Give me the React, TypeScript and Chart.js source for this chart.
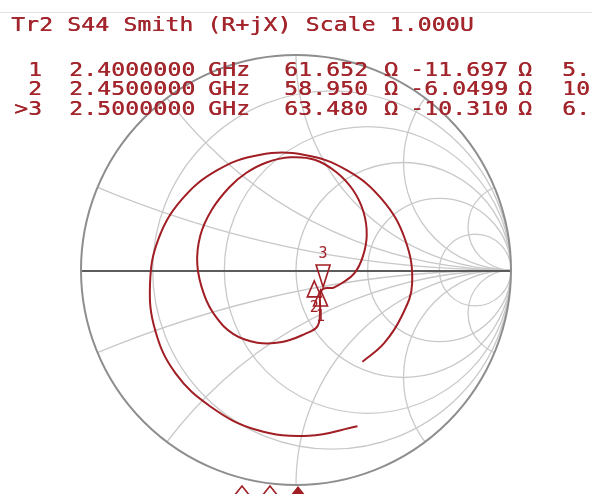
import React, { useEffect, useRef } from 'react';
import { Chart, registerables } from 'chart.js';

Chart.register(...registerables);

// ---------- data ----------
const TITLE = 'Tr2 S44 Smith (R+jX) Scale 1.000U';
const Z0 = 50;

const MARKER_IDS = ['1', '2', '>3'];
const MARKER_FREQ_GHZ = [2.4, 2.45, 2.5];
const MARKER_R = [61.652, 58.95, 63.48];
const MARKER_X = [-11.697, -6.0499, -10.31];
const MARKER_EXTRA = ['5.', '10', '6.'];
const ACTIVE_MARKER = 2;

// Smith grid (normalised resistance / reactance)
const R_GRID = [0.2, 0.5, 1, 2, 5];
const X_GRID = [0.2, 0.5, 1, 2, 5];

const OUTER_RE = [0.286, 0.06, -0.185, -0.395, -0.56, -0.655, -0.679, -0.64, -0.532, -0.37, -0.171, 0.041, 0.24, 0.401, 0.507, 0.54, 0.492, 0.41, 0.309];
const OUTER_IM = [-0.727, -0.771, -0.743, -0.637, -0.481, -0.28, -0.065, 0.144, 0.327, 0.462, 0.535, 0.535, 0.462, 0.327, 0.143, -0.065, -0.214, -0.34, -0.427];

const INNER_RE = [0.172, 0.218, 0.271, 0.31, 0.329, 0.314, 0.266, 0.188, 0.087, -0.027, -0.137, -0.232, -0.31, -0.391, -0.445, -0.459, -0.427, -0.374, -0.291, -0.18, -0.065, 0.04, 0.1, 0.112, 0.112, 0.126, 0.172];
const INNER_IM = [-0.084, -0.058, -0.016, 0.06, 0.162, 0.27, 0.371, 0.455, 0.513, 0.524, 0.5, 0.451, 0.385, 0.281, 0.16, 0.024, -0.116, -0.216, -0.298, -0.338, -0.335, -0.298, -0.261, -0.186, -0.121, -0.088, -0.084];

// ---------- styles ----------
const TRACE_COLOR = '#a01e24';
const TEXT_COLOR = '#a3262d';
const GRID_COLOR = '#c9c9c9';
const OUTER_COLOR = '#8e8e8e';
const AXIS_COLOR = '#5c5c5c';
const FONT = '20px "DejaVu Sans Mono"';
const TEXT_STRETCH = 1.15;

function toGamma(r: number, x: number) {
  const zr = r / Z0;
  const zi = x / Z0;
  const dr = zr + 1;
  const di = zi;
  const nr = zr - 1;
  const ni = zi;
  const d = dr * dr + di * di;
  return { x: (nr * dr + ni * di) / d, y: (ni * dr - nr * di) / d };
}

const smithGrid = {
  id: 'smithGrid',
  beforeDatasetsDraw(chart: any) {
    const { ctx, scales } = chart;
    const sx = scales.x;
    const sy = scales.y;
    const cx = sx.getPixelForValue(0);
    const cy = sy.getPixelForValue(0);
    const R = sx.getPixelForValue(1) - cx;
    ctx.save();
    ctx.beginPath();
    ctx.arc(cx, cy, R, 0, Math.PI * 2);
    ctx.clip();
    ctx.strokeStyle = GRID_COLOR;
    ctx.lineWidth = 1.3;
    R_GRID.forEach((r) => {
      const c = r / (1 + r);
      const rad = 1 / (1 + r);
      ctx.beginPath();
      ctx.arc(sx.getPixelForValue(c), cy, rad * R, 0, Math.PI * 2);
      ctx.stroke();
    });
    X_GRID.forEach((xv) => {
      [1, -1].forEach((s) => {
        ctx.beginPath();
        ctx.arc(sx.getPixelForValue(1), sy.getPixelForValue(s / xv), R / xv, 0, Math.PI * 2);
        ctx.stroke();
      });
    });
    ctx.restore();
    ctx.save();
    ctx.strokeStyle = AXIS_COLOR;
    ctx.lineWidth = 2;
    ctx.beginPath();
    ctx.moveTo(cx - R, cy + 1);
    ctx.lineTo(cx + R, cy + 1);
    ctx.stroke();
    ctx.strokeStyle = OUTER_COLOR;
    ctx.lineWidth = 2;
    ctx.beginPath();
    ctx.arc(cx, cy, R, 0, Math.PI * 2);
    ctx.stroke();
    ctx.restore();
  },
};

const markerPlugin = {
  id: 'markerPlugin',
  afterDatasetsDraw(chart: any) {
    const { ctx, scales } = chart;
    const sx = scales.x;
    const sy = scales.y;
    ctx.save();
    ctx.strokeStyle = TRACE_COLOR;
    ctx.fillStyle = TRACE_COLOR;
    ctx.lineWidth = 1.6;
    ctx.font = '15px "DejaVu Sans Mono"';
    ctx.textAlign = 'center';
    MARKER_R.forEach((r, i) => {
      const g = toGamma(r, MARKER_X[i]);
      const px = sx.getPixelForValue(g.x);
      const py = sy.getPixelForValue(g.y);
      const label = MARKER_IDS[i].replace('>', '');
      if (i === ACTIVE_MARKER) {
        ctx.beginPath();
        ctx.moveTo(px, py);
        ctx.lineTo(px - 7, py - 22);
        ctx.lineTo(px + 7, py - 22);
        ctx.closePath();
        ctx.stroke();
        ctx.fillText(label, px, py - 29);
      } else {
        ctx.beginPath();
        ctx.moveTo(px, py);
        ctx.lineTo(px - 7, py + 16);
        ctx.lineTo(px + 7, py + 16);
        ctx.closePath();
        ctx.stroke();
        ctx.fillText(label, px, py + 31);
      }
    });
    // stimulus marker indicators at the bottom
    MARKER_FREQ_GHZ.forEach((f, i) => {
      const bx = 242 + i * 28;
      const by = 486;
      ctx.beginPath();
      ctx.moveTo(bx, by);
      ctx.lineTo(bx - 8, by + 10);
      ctx.lineTo(bx, by + 20);
      ctx.lineTo(bx + 8, by + 10);
      ctx.closePath();
      if (i === ACTIVE_MARKER) ctx.fill();
      else ctx.stroke();
    });
    ctx.restore();
  },
};

function drawText(ctx: CanvasRenderingContext2D, t: string, x: number, y: number) {
  ctx.save();
  ctx.translate(x, y);
  ctx.scale(TEXT_STRETCH, 1);
  ctx.fillText(t, 0, 0);
  ctx.fillText(t, 0.45, 0);
  ctx.restore();
}

const textPlugin = {
  id: 'textPlugin',
  afterDraw(chart: any) {
    const { ctx } = chart;
    ctx.save();
    ctx.fillStyle = TEXT_COLOR;
    ctx.font = FONT;
    (ctx as any).letterSpacing = '0.15px';
    ctx.textBaseline = 'alphabetic';
    ctx.textAlign = 'left';
    drawText(ctx, TITLE, 11, 31);
    const baselines = [75.5, 95, 114.5];
    MARKER_IDS.forEach((id, i) => {
      const y = baselines[i];
      const g: [string, number][] = [
        [id.padStart(2, ' '), 14],
        [MARKER_FREQ_GHZ[i].toFixed(7), 69],
        ['GHz', 208],
        [MARKER_R[i].toPrecision(5), 284],
        ['Ω', 384],
        [MARKER_X[i].toPrecision(5), 410],
        ['Ω', 518],
        [MARKER_EXTRA[i], 562],
      ];
      g.forEach(([t, x]) => drawText(ctx, t, x, y));
    });
    ctx.restore();
  },
};

export default function App() {
  const ref = useRef<HTMLCanvasElement | null>(null);
  useEffect(() => {
    if (!ref.current) return;
    const outer = OUTER_RE.map((v, i) => ({ x: v, y: OUTER_IM[i] }));
    const inner = INNER_RE.map((v, i) => ({ x: v, y: INNER_IM[i] }));
    const chart = new Chart(ref.current, {
      type: 'scatter',
      data: {
        datasets: [
          { data: outer, showLine: true, borderColor: TRACE_COLOR, borderWidth: 2, pointRadius: 0, tension: 0.4, fill: false },
          { data: inner, showLine: true, borderColor: TRACE_COLOR, borderWidth: 2, pointRadius: 0, tension: 0.4, fill: false },
        ],
      },
      options: {
        animation: false,
        responsive: false,
        events: [],
        layout: { padding: { left: 81, right: 81, top: 55, bottom: 9 } },
        plugins: { legend: { display: false }, tooltip: { enabled: false } },
        scales: {
          x: { type: 'linear', min: -1, max: 1, display: false },
          y: { type: 'linear', min: -1, max: 1, display: false },
        },
      },
      plugins: [smithGrid, markerPlugin, textPlugin],
    });
    return () => chart.destroy();
  }, []);
  return (
    <div style={{ position: 'absolute', left: 0, top: 0, width: 592, height: 494, background: '#fff', overflow: 'hidden' }}>
      <div style={{ position: 'absolute', left: 0, top: 12, width: 592, height: 1, background: '#e2e2e2' }} />
      <canvas ref={ref} width={592} height={494} style={{ display: 'block' }} />
    </div>
  );
}
